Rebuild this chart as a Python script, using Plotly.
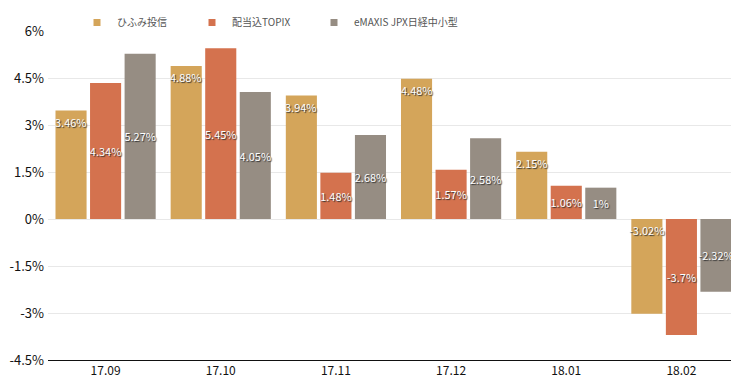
import plotly.graph_objects as go

categories = ["17.09", "17.10", "17.11", "17.12", "18.01", "18.02"]
hifumi = [3.46, 4.88, 3.94, 4.48, 2.15, -3.02]
topix = [4.34, 5.45, 1.48, 1.57, 1.06, -3.7]
emaxis = [5.27, 4.05, 2.68, 2.58, 1.0, -2.32]
series_names = ["ひふみ投信", "配当込TOPIX", "eMAXIS JPX日経中小型"]
colors = ["#D4A55A", "#D4724E", "#968D83"]
y_ticks = [-4.5, -3, -1.5, 0, 1.5, 3, 4.5, 6]

FONT = "Noto Sans CJK JP, Noto Sans, sans-serif"
OFF = 8  # page body margin
W, H = 739 - OFF, 377 - OFF
ML, MR, MT, MB = 48 - OFF, 0, 31 - OFF, 17
PW = W - ML - MR
PH = H - MT - MB

def fmt(v):
    return f"{v:g}%"

fig = go.Figure()
legend_names = ["legend", "legend2", "legend3"]
for i, (name, vals, col) in enumerate(zip(series_names, [hifumi, topix, emaxis], colors)):
    show_text = i > 0
    fig.add_trace(go.Bar(
        x=categories, y=vals, name=name,
        marker=dict(color=col, line=dict(width=0)),
        text=[fmt(v) for v in vals] if show_text else None,
        textposition="inside" if show_text else "none",
        insidetextanchor="middle",
        textangle=0,
        constraintext="none",
        textfont=dict(family=FONT, size=11, color="white", shadow="1px 1px 1px #333"),
        showlegend=False,
        hoverinfo="skip",
    ))
    # legend-only swatch (small square like the reference)
    fig.add_trace(go.Scatter(
        x=[None], y=[None], mode="markers", name=name,
        marker=dict(symbol="square", size=7, color=col),
        legend=legend_names[i], showlegend=True, hoverinfo="skip",
    ))

# yellow labels at top of bar (or at zero for negative)
group_w = PW / len(categories) * 0.9
slot = group_w / 3
for idx, v in enumerate(hifumi):
    fig.add_annotation(
        x=idx, y=max(v, 0), xref="x", yref="y", xshift=-slot, yshift=-1,
        text=fmt(v), showarrow=False, yanchor="top",
        font=dict(family=FONT, size=11, color="white", shadow="1px 1px 1px #333"),
    )

def px2paper(px):
    return (px - OFF - ML) / PW

legend_common = dict(
    orientation="h", yanchor="top", xanchor="left",
    y=1 + MT / PH,
    font=dict(family=FONT, size=10, color="#555"),
    bgcolor="rgba(0,0,0,0)", itemclick=False, itemwidth=30,
)
text_starts = [117, 232, 354]
layout_legends = {}
for ln, ts in zip(legend_names, text_starts):
    layout_legends[ln] = dict(legend_common, x=px2paper(ts - 40))

fig.update_layout(
    width=W, height=H,
    margin=dict(l=ML, r=MR, t=MT, b=MB, autoexpand=False),
    paper_bgcolor="white", plot_bgcolor="white",
    barmode="group", bargap=0.1, bargroupgap=0.1,
    showlegend=True,
    font=dict(family=FONT, color="#111"),
    xaxis=dict(
        type="category", range=[-0.5, len(categories) - 0.5],
        showgrid=False, showline=True, linecolor="#111", linewidth=1,
        ticks="", tickfont=dict(family=FONT, size=12, color="#111"), zeroline=False,
        ticklabelstandoff=0, automargin=False,
    ),
    yaxis=dict(
        range=[-4.5, 6], tickvals=y_ticks, ticktext=[fmt(v) for v in y_ticks],
        showgrid=True, gridcolor="#E8E8E8", gridwidth=1, zeroline=False,
        tickfont=dict(family=FONT, size=13, color="#111"), ticks="",
        showline=False, automargin=False, ticklabelstandoff=3,
    ),
    **layout_legends,
)

fig.write_html("out.html")
